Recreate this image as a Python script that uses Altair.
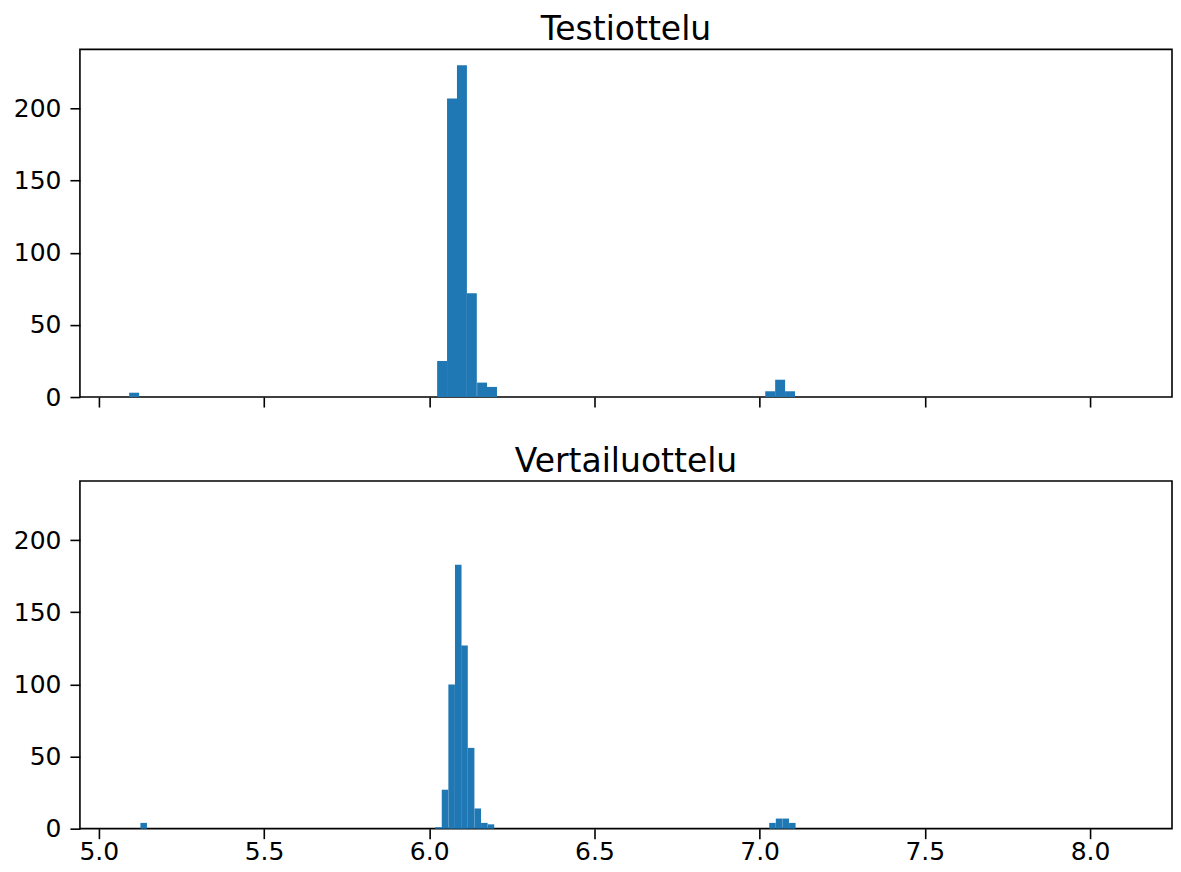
import altair as alt
import pandas as pd

# Panel titles
titles = ["Testiottelu", "Vertailuottelu"]

# Top panel (Testiottelu): bin left edges, common bin width, counts
top_bin_left = [5.092, 6.024, 6.054, 6.084, 6.114, 6.145, 6.175, 7.017, 7.047, 7.077]
top_bin_width = 0.0301
top_counts = [3, 25, 207, 230, 72, 10, 7, 4, 12, 4]

# Bottom panel (Vertailuottelu)
bot_bin_left = [5.126, 6.018, 6.038, 6.058, 6.078, 6.097, 6.117, 6.137, 6.157, 6.177,
                7.029, 7.049, 7.069, 7.089]
bot_bin_width = 0.0198
bot_counts = [4, 1, 27, 100, 183, 127, 56, 14, 4, 3, 4, 7, 7, 4]

x_ticks = [5.0, 5.5, 6.0, 6.5, 7.0, 7.5, 8.0]
y_ticks = [0, 50, 100, 150, 200]
x_domain = [4.943, 8.248]
y_domain = [0, 241]

BLUE = "#1f77b4"
W, H = 1093, 348


def make_df(lefts, width, counts):
    return pd.DataFrame({
        "start": lefts,
        "end": [l + width for l in lefts],
        "count": counts,
    })


def panel(df, title, show_labels):
    return alt.Chart(df).mark_rect(color=BLUE).encode(
        x=alt.X("start:Q", scale=alt.Scale(domain=x_domain, nice=False, zero=False),
                axis=alt.Axis(values=x_ticks, format=".1f", title=None,
                              labels=show_labels, grid=False, labelPadding=1)),
        x2="end:Q",
        y=alt.Y("count:Q", scale=alt.Scale(domain=y_domain, nice=False),
                axis=alt.Axis(values=y_ticks, title=None, grid=False, labelPadding=9)),
        y2=alt.datum(0),
    ).properties(
        width=W, height=H,
        title=alt.TitleParams(title, fontSize=33, font="DejaVu Sans", fontWeight="normal",
                              color="black", offset=2, anchor="middle"),
    )


top = panel(make_df(top_bin_left, top_bin_width, top_counts), titles[0], False)
bot = panel(make_df(bot_bin_left, bot_bin_width, bot_counts), titles[1], True)

chart = alt.vconcat(top, bot, spacing=34).properties(
    padding={"left": 4, "top": 5, "right": 0, "bottom": 0},
    background="white",
).configure_view(
    stroke="black", strokeWidth=1.6
).configure_axis(
    domain=False, tickColor="black", tickWidth=1.6, tickSize=10,
    labelFont="DejaVu Sans", labelFontSize=25, labelColor="black",
)

chart.save("out.html", embed_options={"renderer": "svg", "actions": False})
